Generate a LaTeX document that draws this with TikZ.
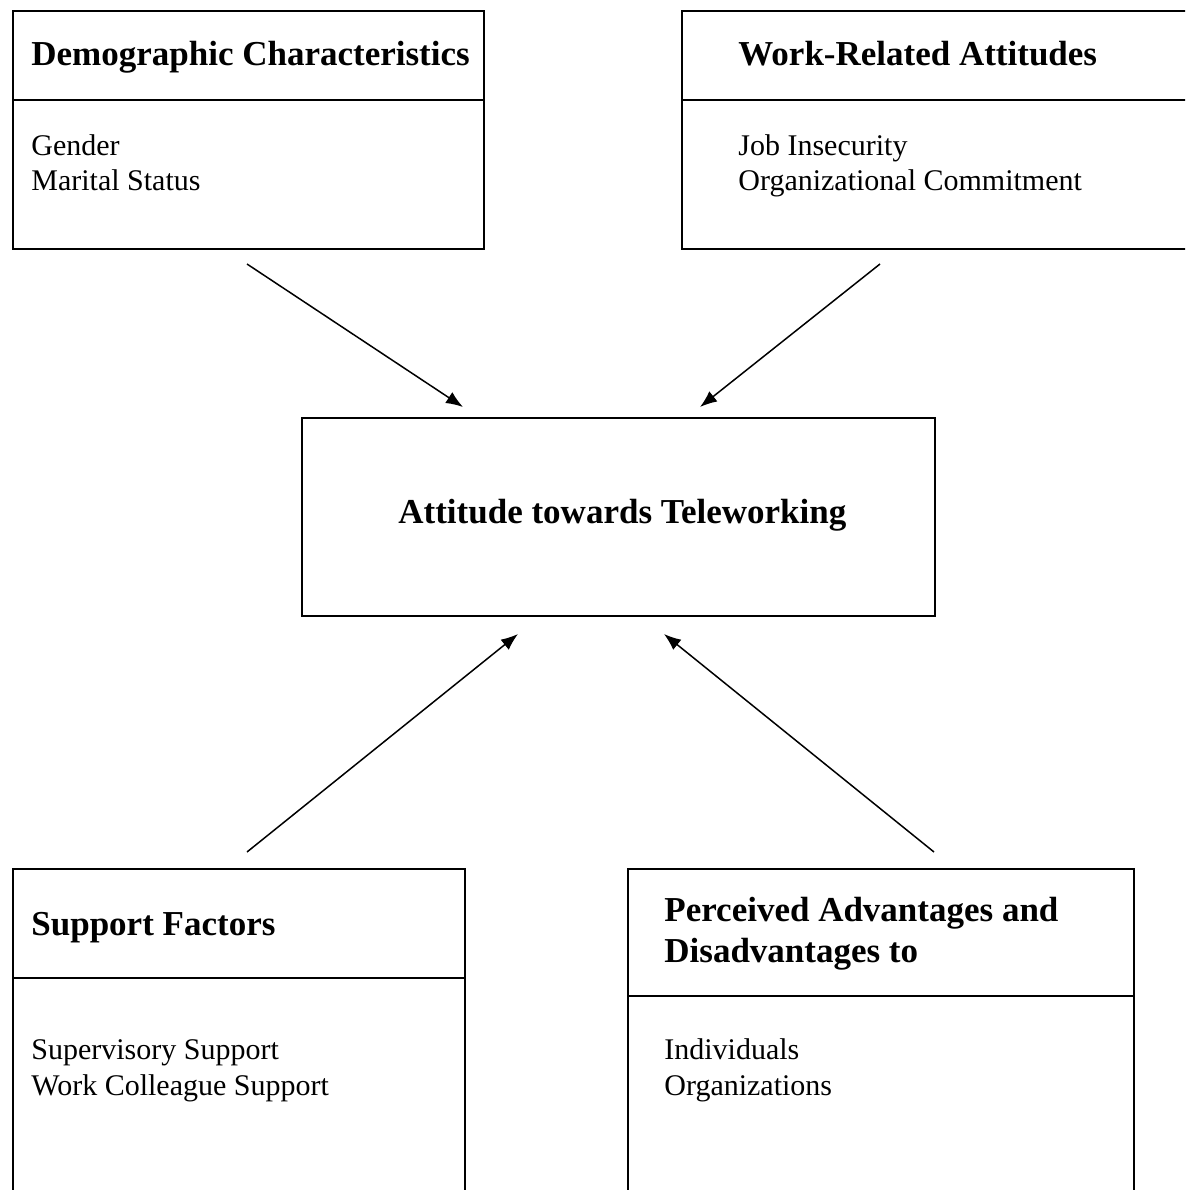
\documentclass[tikz,border=0pt]{standalone}
\usepackage{fontspec}
\setmainfont{Liberation Serif}
\usetikzlibrary{arrows.meta}
\begin{document}
\begin{tikzpicture}[x=0.5pt,y=-0.5pt,
  box/.style={draw, line width=1.1pt, inner sep=0pt, anchor=north west},
  divider/.style={line width=1.1pt},
  title/.style={anchor=base west, inner sep=0pt, font=\fontsize{17.5}{20.5}\selectfont\bfseries, align=left},
  item/.style={anchor=base west, inner sep=0pt, font=\fontsize{15}{17.5}\selectfont},
  arr/.style={line width=0.75pt, -{Latex[length=8.5pt,width=6.5pt]}}]
\useasboundingbox (0,0) rectangle (1185,1190);
\clip (0,0) rectangle (1185,1190);
% boxes
\node[box, minimum width=235.5pt, minimum height=119pt] (demo) at (12,10) {};
\draw[divider] (12,100) -- (483,100);
\node[box, minimum width=260pt, minimum height=119pt] (work) at (681,10) {};
\draw[divider] (681,100) -- (1200,100);
\node[box, minimum width=316.5pt, minimum height=99pt] (att) at (301,417) {};
\node[box, minimum width=226pt, minimum height=170pt] (supp) at (12,868) {};
\draw[divider] (12,978) -- (464,978);
\node[box, minimum width=253pt, minimum height=170pt] (perc) at (627,868) {};
\draw[divider] (627,996) -- (1133,996);
% texts
\node[title] (demoT) at (31,65) {Demographic Characteristics};
\node[item] (demo1) at (31,155) {Gender};
\node[item] (demo2) at (31,190) {Marital Status};
\node[title] (workT) at (738,65) {Work-Related Attitudes};
\node[item] (work1) at (738,155) {Job Insecurity};
\node[item] (work2) at (738,190) {Organizational Commitment};
\node[title] (attT) at (398,523) {Attitude towards Teleworking};
\node[title] (suppT) at (31,935) {Support Factors};
\node[item] (supp1) at (31,1059) {Supervisory Support};
\node[item] (supp2) at (31,1095) {Work Colleague Support};
\node[title] (percT1) at (664,921) {Perceived Advantages and};
\node[title] (percT2) at (664,962) {Disadvantages to};
\node[item] (perc1) at (664,1059) {Individuals};
\node[item] (perc2) at (664,1095) {Organizations};
% arrow endpoints
\coordinate (a1s) at (247,264); \coordinate (a1e) at (463,407);
\coordinate (a2s) at (880,264); \coordinate (a2e) at (700,407);
\coordinate (a3s) at (247,852); \coordinate (a3e) at (518,634);
\coordinate (a4s) at (934,852); \coordinate (a4e) at (664,634);
\draw[arr] (a1s) -- (a1e);
\draw[arr] (a2s) -- (a2e);
\draw[arr] (a3s) -- (a3e);
\draw[arr] (a4s) -- (a4e);
\end{tikzpicture}
\end{document}
